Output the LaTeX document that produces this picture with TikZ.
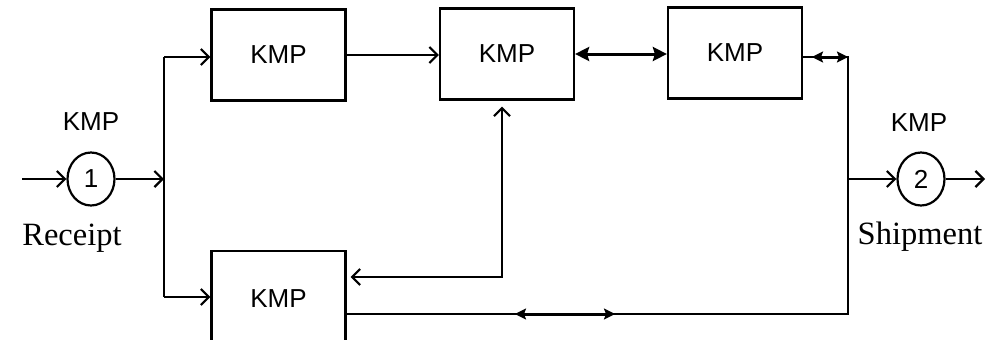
\documentclass[tikz,border=0pt]{standalone}
\usepackage{fontspec}
\setmainfont{Liberation Serif}
\newfontfamily\kmpfont{Liberation Sans}
\usetikzlibrary{arrows.meta,shapes.geometric,calc}
\begin{document}
\begin{tikzpicture}[x=1pt,y=-1pt,
  line width=2.2pt,
  box/.style={draw,rectangle,minimum width=134pt,minimum height=91pt,inner sep=0pt,font=\kmpfont\fontsize{26}{30}\selectfont},
  circ/.style={draw,ellipse,minimum width=47pt,minimum height=53pt,inner sep=0pt,font=\kmpfont\fontsize{26}{30}\selectfont},
  lbl/.style={font=\kmpfont\fontsize{26}{30}\selectfont,inner sep=0pt,anchor=base},
  serif/.style={font=\fontsize{32.5}{36}\selectfont,inner sep=0pt,anchor=base},
  oarr/.style={-{Straight Barb[length=8pt,width=16pt]}},
  boarr/.style={{Straight Barb[length=8pt,width=16pt]}-{Straight Barb[length=8pt,width=16pt]}},
  biarr/.style={{Stealth[length=14pt,width=14pt,inset=2pt]}-{Stealth[length=14pt,width=14pt,inset=2pt]},line width=3pt},
  sbiarr/.style={{Stealth[length=11pt,width=11pt,inset=2pt]}-{Stealth[length=11pt,width=11pt,inset=2pt]},line width=3pt}
]
\useasboundingbox (0,0) rectangle (989,340);
\node[box] (b1) at (278.5,55) {KMP};
\node[box] (b2) at (507,54) {KMP};
\node[box] (b3) at (735,53) {KMP};
\node[box,minimum height=95pt] (b4) at (278.5,298.5) {KMP};
\node[circ] (c1) at (91,179) {1};
\node[circ] (c2) at (921,179) {2};
\node[lbl] (k1) at (91,130) {KMP};
\node[lbl] (k2) at (919,131) {KMP};
\node[serif] (r) at (72,245) {Receipt};
\node[serif] (s) at (920,244) {Shipment};
\coordinate (in) at (22,179);
\coordinate (out) at (985,179);
\coordinate (ft) at (164,57);
\coordinate (fb) at (164,297);
\coordinate (rt) at (848,57);
\coordinate (rb) at (848,314);
\coordinate (m) at (502,277);
\coordinate (bl) at (515,314);
\coordinate (br) at (615,314);
\coordinate (tl) at (812,57);
\draw[oarr] (in) -- (c1.west);
\draw[oarr] (c1.east) -- (c1.east -| ft);
\draw (ft) -- (fb);
\draw[oarr] (ft) -- (ft -| b1.west);
\draw[oarr] (fb) -- (fb -| b4.west);
\draw[oarr] (b1.east) -- (b1.east -| b2.west);
\draw[biarr] (b2.east) -- (b2.east -| b3.west);
\draw (b3.east |- rt) -- (rt) -- (rb) -- (rb -| b4.east);
\draw[sbiarr] (tl) -- (rt);
\draw[sbiarr] (bl) -- (br);
\draw[oarr] (c2.west -| rt) -- (c2.west);
\draw[oarr] (c2.east) -- (out);
\draw[boarr] ($(m -| b4.east)+(4,0)$) -- (m) -- ($(m |- b2.south)+(0,6)$);
\end{tikzpicture}
\end{document}
